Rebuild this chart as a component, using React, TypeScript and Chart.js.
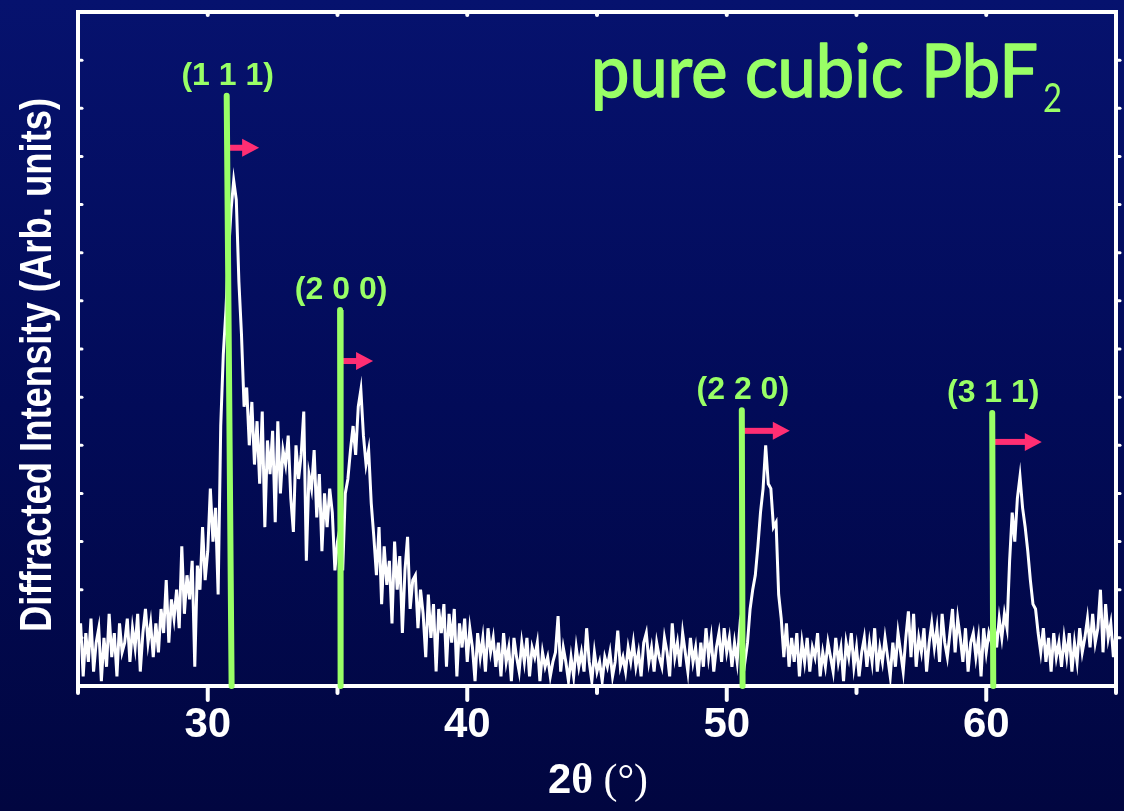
import React, { useEffect, useRef } from "react";
import { Chart, registerables } from "chart.js";

Chart.register(...registerables);

// ---- data ----
const twoThetaStart = 25;
const twoThetaStep = 0.1;
// diffracted intensity (arb. units) read at 0.1° steps from 25° to 65°
const intensity = [
  0.9, 1.3, 0.2, 1.1, 0.5, 1.4, 0.3, 0.9, 1.2, 0.1,
  1.0, 0.4, 1.5, 0.6, 1.1, 0.2, 1.3, 0.7, 0.9, 1.4,
  0.5, 1.2, 0.8, 1.5, 0.3, 1.1, 1.6, 0.9, 1.3, 0.6,
  1.3, 0.7, 1.6, 1.1, 2.2, 0.9, 1.8, 1.4, 2.0, 1.2,
  2.9, 1.5, 2.3, 1.8, 2.6, 0.4, 2.5, 2.0, 3.3, 2.2,
  2.8, 4.1, 3.0, 3.7, 1.9, 5.4, 6.9, 7.8, 9.0, 9.9,
  10.5, 10.1, 8.4, 7.3, 5.8, 6.2, 5.0, 5.9, 4.6, 5.5,
  4.2, 5.7, 3.3, 5.1, 4.4, 5.3, 3.4, 5.5, 4.0, 4.9,
  4.6, 5.2, 3.9, 3.2, 5.0, 4.3, 4.8, 5.7, 2.6, 4.4,
  4.1, 4.9, 3.5, 4.4, 2.8, 4.0, 3.3, 4.1, 3.6, 2.4,
  3.0, 3.3, 2.4, 4.0, 4.3, 4.9, 5.4, 4.8, 5.8, 6.15,
  5.2, 4.6, 4.9, 3.8, 3.1, 2.3, 3.3, 1.7, 2.9, 2.1,
  2.6, 1.3, 3.0, 2.0, 2.7, 1.1, 2.4, 3.1, 1.6, 2.2,
  2.3, 1.2, 2.0, 1.5, 0.6, 1.9, 1.0, 1.7, 0.3, 1.6,
  1.1, 1.7, 0.4, 1.5, 0.9, 1.6, 0.2, 1.3, 0.8, 1.4,
  0.5, 1.2, 0.8, 0.1, 1.1, 0.6, 1.0, 0.3, 1.2, 0.7,
  1.0, 0.4, 0.9, 0.2, 1.1, 0.5, 0.8, 0.1, 1.0, 0.6,
  0.3, 0.9, 0.5, 1.0, 0.2, 0.8, 0.6, 0.9, 0.1, 0.7,
  0.4, 0.6, 0.2, 0.5, 0.7, 1.45, 0.3, 0.8, 0.5, 0.1,
  0.6, 0.2, 0.8, 0.4, 0.7, 0.3, 1.2, 0.5, 0.1, 0.7,
  0.3, 0.5, 0.1, 0.6, 0.4, 0.7, 0.2, 0.5, 1.15, 0.4,
  0.6, 0.3, 0.8, 0.5, 0.9, 0.4, 0.7, 0.2, 0.9, 1.1,
  0.5, 0.8, 0.3, 0.9, 0.6, 0.4, 1.0, 0.7, 0.2, 1.3,
  0.6, 0.9, 0.4, 1.1, 0.7, 0.3, 1.0, 0.5, 0.8, 0.2,
  0.9, 0.4, 1.2, 0.6, 1.0, 0.3, 0.8, 1.1, 0.5, 1.2,
  0.7, 1.0, 0.4, 0.9, 0.5, 1.2, 0.8, 0.5, 0.9, 1.6,
  2.0, 2.3, 2.9, 3.6, 4.1, 5.0, 4.2, 4.1, 3.3, 3.4,
  1.9, 1.4, 0.6, 1.3, 0.4, 1.0, 0.5, 1.1, 0.2, 0.9,
  0.5, 1.0, 0.3, 0.8, 0.6, 1.1, 0.2, 0.7, 0.4, 0.9,
  0.6, 0.3, 1.0, 0.5, 0.8, 0.1, 0.9, 0.6, 1.1, 0.4,
  0.8, 0.2, 0.7, 1.0, 0.4, 0.9, 0.5, 1.2, 0.3, 0.8,
  0.5, 1.0, 0.6, 0.2, 0.9, 0.4, 1.1, 0.7, 0.3, 1.0,
  1.55, 0.6, 1.5, 0.4, 1.0, 0.7, 1.2, 0.3, 0.9, 1.3,
  0.8, 1.2, 0.5, 1.5, 0.9, 0.6, 1.1, 1.6, 0.7, 1.4,
  1.0, 0.5, 1.2, 0.3, 0.9, 1.1, 0.6, 1.0, 0.2, 1.2,
  0.7, 1.1, 0.9, 1.3, 0.8, 1.4, 1.0, 1.5, 1.2, 2.6,
  3.6, 3.0, 3.9, 4.35, 3.7, 3.3, 2.8, 2.2, 1.7, 1.6,
  1.1, 0.7, 1.2, 0.5, 1.0, 0.3, 1.1, 0.6, 0.9, 0.4,
  1.0, 0.6, 1.1, 0.3, 0.9, 0.5, 1.2, 0.7, 1.0, 1.4,
  0.8, 1.5, 0.9, 1.2, 2.0, 0.7, 1.7, 1.0, 1.3, 0.6,
  1.1,
];

// reference reflections (green markers)
const reflections = ["(1 1 1)", "(2 0 0)", "(2 2 0)", "(3 1 1)"];
const markerTopX = [30.73, 35.1, 50.58, 60.23];
const markerBottomX = [30.92, 35.12, 50.61, 60.27];
const markerTopY = [12.26, 7.81, 5.73, 5.67];
// shift arrows (pink)
const arrowY = [11.18, 6.75, 5.3, 5.07];
const arrowEndX = [31.98, 36.37, 52.43, 62.14];

const xTickValues = [25, 30, 35, 40, 45, 50, 55, 60, 65];
const xTickLabels = ["", "30", "", "40", "", "50", "", "60", ""];
const yTickValues = [1, 2, 3, 4, 5, 6, 7, 8, 9, 10, 11, 12, 13];

const titleMain = "pure cubic PbF";
const titleSub = "2";
const yTitle = "Diffracted Intensity (Arb. units)";
const xTitleA = "2";
const xTitleB = "θ";
const xTitleC = " (°)";

const GREEN = "#99ff66";
const PINK = "#ff2e73";
const WHITE = "#ffffff";

const decor = {
  id: "decor",
  beforeDatasetsDraw(chart: any) {
    const { ctx, chartArea: ca } = chart;
    const xs = chart.scales.x;
    const ys = chart.scales.y;
    ctx.save();
    // frame
    ctx.strokeStyle = WHITE;
    ctx.lineWidth = 4;
    ctx.strokeRect(ca.left, ca.top, ca.right - ca.left, ca.bottom - ca.top);
    // tick marks
    ctx.lineCap = "round";
    xTickValues.forEach((v) => {
      const px = xs.getPixelForValue(v);
      const len = v % 10 === 0 ? 14 : 7;
      ctx.beginPath();
      ctx.moveTo(px, ca.bottom);
      ctx.lineTo(px, ca.bottom + len);
      ctx.stroke();
      ctx.beginPath();
      ctx.moveTo(px, ca.top);
      ctx.lineTo(px, ca.top + 3);
      ctx.stroke();
    });
    ctx.lineWidth = 3;
    yTickValues.forEach((v) => {
      const py = ys.getPixelForValue(v);
      ctx.beginPath();
      ctx.moveTo(ca.left, py);
      ctx.lineTo(ca.left + 4, py);
      ctx.stroke();
      ctx.beginPath();
      ctx.moveTo(ca.right, py);
      ctx.lineTo(ca.right + 4, py);
      ctx.stroke();
    });
    // arrows
    ctx.fillStyle = PINK;
    arrowY.forEach((yv, i) => {
      const t = (markerTopY[i] - yv) / markerTopY[i];
      const sx = markerTopX[i] + t * (markerBottomX[i] - markerTopX[i]);
      const x0 = xs.getPixelForValue(sx);
      const x1 = xs.getPixelForValue(arrowEndX[i]);
      const y = ys.getPixelForValue(yv);
      const head = 17;
      ctx.fillRect(x0, y - 3, x1 - head - x0 + 1, 6);
      ctx.beginPath();
      ctx.moveTo(x1 - head, y - 9);
      ctx.lineTo(x1, y);
      ctx.lineTo(x1 - head, y + 9);
      ctx.closePath();
      ctx.fill();
    });
    ctx.restore();
  },
  afterDatasetsDraw(chart: any) {
    const { ctx } = chart;
    const xs = chart.scales.x;
    const ys = chart.scales.y;
    ctx.save();
    // reflection labels
    ctx.fillStyle = GREEN;
    ctx.font = "bold 32px 'Liberation Sans', Arial, sans-serif";
    ctx.textAlign = "center";
    ctx.textBaseline = "middle";
    reflections.forEach((lbl, i) => {
      const px = xs.getPixelForValue(markerTopX[i]) + 1;
      const py = ys.getPixelForValue(markerTopY[i]) - 20;
      ctx.fillText(lbl, px, py);
    });

    // title
    ctx.textAlign = "left";
    ctx.textBaseline = "alphabetic";
    ctx.font = "74px Lato, 'Noto Sans', sans-serif";
    const tw = ctx.measureText(titleMain).width;
    const sx = 447 / tw;
    ctx.save();
    ctx.translate(591, 97);
    ctx.scale(sx, 1);
    ctx.lineWidth = 1.6;
    ctx.strokeStyle = GREEN;
    ctx.lineJoin = "round";
    ctx.strokeText(titleMain, 0, 0);
    ctx.fillText(titleMain, 0, 0);
    ctx.restore();
    ctx.font = "40px Lato, 'Noto Sans', sans-serif";
    const sw = ctx.measureText(titleSub).width;
    ctx.save();
    ctx.translate(1043, 112);
    ctx.scale(19 / sw, 1);
    ctx.fillText(titleSub, 0, 0);
    ctx.restore();

    // y title
    ctx.fillStyle = WHITE;
    ctx.font = "bold 44px 'Liberation Sans', Arial, sans-serif";
    const yw = ctx.measureText(yTitle).width;
    ctx.save();
    ctx.translate(37, 365);
    ctx.rotate(-Math.PI / 2);
    ctx.scale(534 / yw, 1);
    ctx.textAlign = "center";
    ctx.textBaseline = "middle";
    ctx.fillText(yTitle, 0, 2);
    ctx.restore();

    // x title
    const fA = "bold 42px 'Liberation Sans', Arial, sans-serif";
    const fB = "bold 42px 'Liberation Serif', 'Times New Roman', serif";
    const fC = "42px 'Liberation Serif', 'Times New Roman', serif";
    ctx.font = fA;
    const wA = ctx.measureText(xTitleA).width;
    ctx.font = fB;
    const wB = ctx.measureText(xTitleB).width;
    ctx.font = fC;
    const wC = ctx.measureText(xTitleC).width;
    const total = wA + wB + wC;
    const k = 100 / total;
    ctx.save();
    ctx.translate(548, 793);
    ctx.scale(k, 1);
    ctx.textAlign = "left";
    ctx.textBaseline = "alphabetic";
    ctx.font = fA;
    ctx.fillText(xTitleA, 0, 0);
    ctx.font = fB;
    ctx.fillText(xTitleB, wA, 0);
    ctx.font = fC;
    ctx.fillText(xTitleC, wA + wB, 0);
    ctx.restore();

    ctx.restore();
  },
};

export default function App() {
  const ref = useRef<HTMLCanvasElement>(null);

  useEffect(() => {
    const canvas = ref.current;
    if (!canvas) return;
    const points = intensity.map((y, i) => ({
      x: Math.round((twoThetaStart + i * twoThetaStep) * 100) / 100,
      y,
    }));
    const markerSets = reflections.map((lbl, i) => ({
      label: lbl,
      data: [
        { x: markerTopX[i], y: markerTopY[i] },
        { x: markerBottomX[i], y: 0 },
      ],
      borderColor: GREEN,
      backgroundColor: GREEN,
      borderWidth: 6,
      borderCapStyle: "round",
      pointRadius: 0,
      clip: false,
      order: 0,
    }));
    const chart = new Chart(canvas, {
      type: "line",
      data: {
        datasets: [
          ...markerSets,
          {
            label: "PbF2",
            data: points,
            borderColor: WHITE,
            backgroundColor: WHITE,
            borderWidth: 3,
            borderJoinStyle: "miter",
            pointRadius: 0,
            tension: 0,
            order: 1,
          },
        ] as any,
      },
      options: {
        animation: false,
        responsive: false,
        events: [],
        layout: { padding: { top: 12, right: 8, left: 0, bottom: 0 } },
        plugins: {
          legend: { display: false },
          tooltip: { enabled: false },
          title: { display: false },
        },
        scales: {
          x: {
            type: "linear",
            min: 25,
            max: 65,
            afterFit: (s: any) => {
              s.height = 125;
              s.paddingLeft = 0;
              s.paddingRight = 0;
            },
            afterBuildTicks: (s: any) => {
              s.ticks = xTickValues.map((v) => ({ value: v }));
            },
            grid: { display: false, drawTicks: false },
            border: { display: false },
            ticks: {
              autoSkip: false,
              maxRotation: 0,
              minRotation: 0,
              padding: 14,
              color: WHITE,
              font: { family: "'Liberation Sans', Arial, sans-serif", weight: "bold", size: 42 },
              callback: (_v: any, i: number) => xTickLabels[i],
            },
          },
          y: {
            type: "linear",
            min: 0,
            max: 14,
            afterFit: (s: any) => {
              s.width = 78;
              s.paddingTop = 0;
              s.paddingBottom = 0;
            },
            afterBuildTicks: (s: any) => {
              s.ticks = yTickValues.map((v) => ({ value: v }));
            },
            grid: { display: false, drawTicks: false },
            border: { display: false },
            ticks: { display: false },
          },
        },
      } as any,
      plugins: [decor],
    });
    return () => chart.destroy();
  }, []);

  return (
    <div
      style={{
        position: "fixed",
        left: 0,
        top: 0,
        width: 1124,
        height: 811,
        background: "linear-gradient(180deg, #06126e 0%, #020b58 50%, #010640 100%)",
      }}
    >
      <canvas ref={ref} width={1124} height={811} style={{ display: "block" }} />
    </div>
  );
}
